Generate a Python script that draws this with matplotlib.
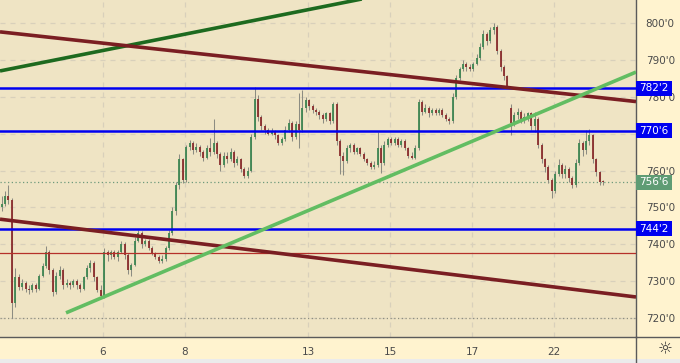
import numpy as np
import matplotlib
matplotlib.use('Agg')
import matplotlib.pyplot as plt
import matplotlib.transforms as mtransforms
from matplotlib.lines import Line2D
from matplotlib.patches import Rectangle

# x axis is in trading days, 0 = start of the "6" session
day_ticks = [0, 2, 5, 7, 9, 11]
day_labels = ['6', '8', '13', '15', '17', '22']
bars_per_day = 12
first_bar = -2.47

opens = [750, 751, 753, 752, 724, 731, 728.5, 729.5, 728, 727.5,
         729, 728, 731.5, 734, 738, 733, 727, 731.5, 733, 729,
         729.5, 729, 730, 729, 728, 731, 733.5, 735, 731, 727.5,
         726, 738, 737, 738, 736.5, 738, 740, 737, 733, 734.5,
         741, 743, 740, 741, 739, 737.5, 736.5, 735.5, 736, 739,
         743, 749, 756, 763, 757.5, 766.5, 767.5, 765.5, 766.5, 765,
         763.5, 766, 765, 767.5, 764.5, 761.5, 764, 763, 765, 762,
         763, 760.5, 758.5, 760, 769, 779.5, 774.5, 772, 771, 770,
         770.5, 769.5, 767.5, 768.5, 771, 773, 769, 772.5, 771, 777,
         779, 777.5, 776.5, 776, 775, 774, 775.5, 773.5, 778, 768,
         764, 762.5, 766, 767, 765, 766, 764.5, 763, 762, 761,
         761.5, 766, 762, 767, 768.5, 767.5, 768.5, 767, 768, 766,
         764, 763.5, 766, 778.5, 776, 777, 775.5, 776.5, 775.5, 776.5,
         775, 774, 773.5, 780, 785, 787.5, 789, 788, 787.5, 789,
         790.5, 793.5, 797, 795, 798, 799, 792.5, 788, 785.5, 777,
         773, 775, 776, 773.5, 774.5, 775.5, 772, 774, 767, 763,
         761, 757.5, 754.5, 759, 761.5, 759, 760.5, 758, 756, 762,
         767.5, 765.5, 768, 769.5, 763, 759.5, 757]
closes = [751, 753, 752, 724, 731, 728.5, 729.5, 728, 727.5, 729,
          728, 731.5, 734, 738, 733, 727, 731.5, 733, 729, 729.5,
          729, 730, 729, 728, 731, 733.5, 735, 731, 727.5, 726,
          738, 737, 738, 736.5, 738, 740, 737, 733, 734.5, 741,
          743, 740, 741, 739, 737.5, 736.5, 735.5, 736, 739, 743,
          749, 756, 763, 757.5, 766.5, 767.5, 765.5, 766.5, 765, 763.5,
          766, 765, 767.5, 764.5, 761.5, 764, 763, 765, 762, 763,
          760.5, 758.5, 760, 769, 779.5, 774.5, 772, 771, 770, 770.5,
          769.5, 767.5, 768.5, 771, 773, 769, 772.5, 771, 777, 779,
          777.5, 776.5, 776, 775, 774, 775.5, 773.5, 778, 768, 764,
          762.5, 766, 767, 765, 766, 764.5, 763, 762, 761, 761.5,
          766, 762, 767, 768.5, 767.5, 768.5, 767, 768, 766, 764,
          763.5, 766, 778.5, 776, 777, 775.5, 776.5, 775.5, 776.5, 775,
          774, 773.5, 780, 785, 787.5, 789, 788, 787.5, 789, 790.5,
          793.5, 797, 795, 798, 799, 792.5, 788, 785.5, 783, 773,
          775, 776, 773.5, 774.5, 775.5, 772, 774, 767, 763, 761,
          757.5, 754.5, 759, 761.5, 759, 760.5, 758, 756, 762, 767.5,
          765.5, 768, 769.5, 763, 759.5, 757, 756.75]
highs = [753, 754.5, 756, 752.5, 733.5, 732, 730.5, 730, 729, 729.5,
         729.5, 732, 735, 739.5, 738.5, 733.5, 732.5, 734, 733.5, 730.5,
         730, 730.5, 730.5, 729.5, 731.5, 734.5, 735.7, 735.5, 731.5, 729,
         739, 738.5, 738.5, 738.5, 738.5, 741, 740.5, 737.5, 735, 742,
         744, 743.5, 741.5, 741.5, 739.5, 738, 737, 737, 739.5, 744,
         750, 757, 764.5, 763.5, 767, 768.3, 768, 767.5, 767, 765.5,
         767, 768.8, 774, 768, 765, 765, 765, 766, 765.5, 764,
         763.5, 761, 761, 770, 782.6, 780.5, 775, 772.5, 771.5, 771.5,
         771, 770, 769, 772, 774, 773.5, 773.5, 781, 781.8, 780,
         779.5, 778, 777, 776.5, 775.5, 776, 776, 778.5, 778.5, 768.5,
         765, 767, 767.5, 767.5, 766.5, 766.5, 765, 763.5, 762.5, 762.5,
         770.4, 767, 768, 769, 769, 769, 769, 768.5, 768.5, 766.5,
         765, 767, 779.5, 779, 778, 777.5, 777, 777, 777, 777,
         775.5, 774.5, 781, 786, 788, 790, 789.5, 789, 789.5, 791.5,
         794.5, 798, 797.5, 799, 800, 799.5, 793, 788.5, 786, 778,
         776, 777, 776.5, 775.5, 776, 776, 776, 774.5, 767.5, 763.5,
         761.5, 758, 760, 763, 762, 761.5, 761, 758.5, 763, 768.5,
         768, 771, 771.2, 770, 763.5, 760, 757.5]
lows = [749, 750.5, 751, 720, 723, 727.5, 727.5, 727, 726.5, 727,
        727, 727.5, 731, 733.5, 732, 726, 726.5, 730.5, 728, 728.5,
        728, 728.5, 728, 727, 727.5, 730.5, 732.5, 730, 727, 725.5,
        725.5, 735.5, 736, 736, 735.5, 737.5, 736, 732, 731.5, 734,
        740.5, 739, 739.5, 738.5, 737, 736, 735, 735, 735.5, 738.5,
        742.5, 748, 755, 756.5, 757, 765.5, 764.5, 765, 764, 762.5,
        763, 764, 764.5, 763.5, 760, 761, 762, 762.5, 761, 761.5,
        759.5, 758, 758, 759.5, 768.5, 773.5, 771, 770, 769.5, 769.5,
        768.5, 767, 767, 768, 770.5, 768, 768.5, 766, 770.5, 776,
        776.5, 775.5, 775, 774, 773, 773.5, 772.5, 773, 767, 759,
        758.8, 762, 765, 764.5, 764.5, 764, 762.5, 761.5, 760.5, 760.5,
        761, 759.3, 761.5, 766.5, 767, 767, 766.5, 766.5, 765.5, 763.5,
        763, 763, 765.5, 775, 775.5, 774.5, 775, 775, 775, 774.5,
        773.5, 772.5, 773, 779.5, 784.5, 787, 787, 787, 787, 788.5,
        790, 793, 794, 794.5, 797, 791.5, 787, 784.5, 782.4, 769.6,
        772, 774, 773, 773, 773.5, 771, 770.5, 766, 762, 759.5,
        756.5, 752.5, 754, 758.5, 758, 758, 757, 755.3, 755.5, 761.5,
        764, 764.5, 767, 762, 758.5, 756, 756]

# drawn lines: (x in days, price)
dark_green_x, dark_green_y = [-2.51, 13.0], [787.0, 821.3]
maroon_top_x, maroon_top_y = [-2.51, 13.0], [797.6, 778.7]
maroon_low_x, maroon_low_y = [-2.51, 13.0], [746.8, 725.7]
light_green_x, light_green_y = [-0.90, 13.0], [721.4, 786.7]
blue_levels = [782.25, 770.75, 744.25]
red_level = 737.6
low_level = 720.0
last_price = 756.75

price_ticks = [720, 730, 740, 750, 760, 770, 780, 790, 800]
hidden_ticks = [770]  # covered by the 770'6 tag


def fmt(p):
    whole = int(p)
    return "%d'%d" % (whole, round((p - whole) * 8))


o = np.array(opens)
c = np.array(closes)
h = np.array(highs)
l = np.array(lows)
t = first_bar + np.arange(len(c)) / bars_per_day

fig = plt.figure(figsize=(6.8, 3.63), dpi=100, facecolor='#fff3cf')
ax = fig.add_axes([0, 26 / 363, 636 / 680, 337 / 363])
ax.set_facecolor('#efe4c4')
ax.set_xlim(-2.51, 13.0)
ax.set_ylim(714.85, 806.24)

ax.grid(True, color='#d8d0bb', linestyle=(0, (4, 4)), lw=0.9, zorder=0)
ax.set_axisbelow(True)

# candles
ax.vlines(t, l, h, color='#8c8c82', lw=0.75, zorder=2)
up = c >= o
b_lo = np.minimum(o, c)
b_hi = np.maximum(np.maximum(o, c), b_lo + 0.4)
ax.vlines(t[up], b_lo[up], b_hi[up], color='#3f8753', lw=1.3, zorder=2.1)
ax.vlines(t[~up], b_lo[~up], b_hi[~up], color='#8b2d2d', lw=1.3, zorder=2.1)

# levels
ax.axhline(low_level, color='#8e8e80', lw=0.9, ls=(0, (1, 2)), zorder=1.5)
ax.axhline(last_price, color='#6f9a7c', lw=0.9, ls=(0, (1, 2)), zorder=1.5)
ax.axhline(red_level, color='#b5302a', lw=0.9, zorder=3)
for lv in blue_levels:
    ax.axhline(lv, color='#0000f0', lw=1.8, zorder=3)

# trend lines
ax.plot(dark_green_x, dark_green_y, color='#1d6a1f', lw=2.6, zorder=3, solid_capstyle='butt')
ax.plot(maroon_top_x, maroon_top_y, color='#7a1e22', lw=2.6, zorder=3, solid_capstyle='butt')
ax.plot(maroon_low_x, maroon_low_y, color='#7a1e22', lw=2.6, zorder=3, solid_capstyle='butt')
ax.plot(light_green_x, light_green_y, color='#62bd62', lw=2.6, zorder=3, solid_capstyle='butt')

# axes
ax.yaxis.tick_right()
ax.set_yticks(price_ticks)
ax.set_yticklabels(['' if p in hidden_ticks else fmt(p) for p in price_ticks])
ax.set_xticks(day_ticks)
ax.set_xticklabels(day_labels)
ax.tick_params(axis='y', length=0, pad=7, labelsize=7.5, labelcolor='#4a4a4a')
ax.tick_params(axis='x', length=0, pad=7, labelsize=7.5, labelcolor='#4a4a4a')
for s in ['top', 'left']:
    ax.spines[s].set_visible(False)
for s in ['right', 'bottom']:
    ax.spines[s].set_color('#5a5a5a')
    ax.spines[s].set_linewidth(1)
fig.add_artist(Line2D([636 / 680, 636 / 680], [0, 26 / 363], color='#5a5a5a', lw=1))
fig.add_artist(Line2D([636 / 680, 1], [26 / 363, 26 / 363], color='#5a5a5a', lw=1))

# price tags
trans = mtransforms.blended_transform_factory(ax.transAxes, ax.transData)
tags = [(lv, '#0000f0') for lv in blue_levels] + [(last_price, '#5f9c74')]
for lv, col in tags:
    ax.add_patch(Rectangle((1.0, lv - 2.05), 0.0566, 4.1, transform=trans,
                           facecolor=col, edgecolor='none', clip_on=False, zorder=6))
    ax.text(1.0283, lv, fmt(lv), transform=trans, ha='center', va='center',
            color='white', fontsize=7.5, clip_on=False, zorder=7)

fig.patches.append(Rectangle((0, 0), 1, 4 / 363, transform=fig.transFigure,
                             facecolor='#ebebeb', edgecolor='none'))
fig.text(665 / 680, 1 - 349 / 363, '\u263c', fontsize=12, ha='center', va='center', color='#333333')

fig.savefig('out.png', dpi=100, facecolor=fig.get_facecolor())
